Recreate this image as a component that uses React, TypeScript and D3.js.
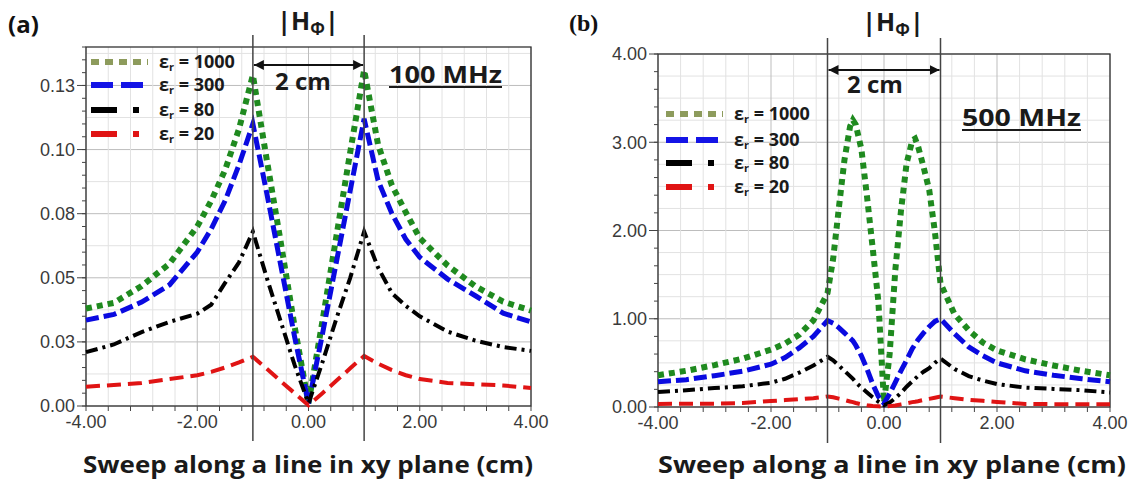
import React from "react";
import * as d3 from "d3";

// ---------- data: panel (a) 100 MHz ----------
const xA = [-4, -3.5, -3, -2.5, -2, -1.75, -1.5, -1.25, -1, -0.75, -0.5, -0.25, 0, 0.25, 0.5, 0.75, 1, 1.25, 1.5, 1.75, 2, 2.5, 3, 3.5, 4];
const a1000 = [0.038, 0.0402, 0.0468, 0.0555, 0.07, 0.08, 0.092, 0.108, 0.129, 0.096, 0.064, 0.031, 0.001, 0.033, 0.066, 0.099, 0.131, 0.102, 0.086, 0.0755, 0.0655, 0.0548, 0.0467, 0.0407, 0.0372];
const a300 = [0.0335, 0.0357, 0.0405, 0.0472, 0.06, 0.069, 0.08, 0.094, 0.11, 0.083, 0.055, 0.027, 0.001, 0.028, 0.056, 0.084, 0.112, 0.088, 0.075, 0.065, 0.058, 0.0495, 0.043, 0.0362, 0.0328];
const a80 = [0.021, 0.024, 0.0288, 0.0328, 0.036, 0.0395, 0.048, 0.056, 0.068, 0.05, 0.033, 0.016, 0.001, 0.017, 0.034, 0.05, 0.068, 0.054, 0.044, 0.039, 0.035, 0.029, 0.0255, 0.023, 0.0215];
const a20 = [0.0075, 0.0082, 0.009, 0.0105, 0.012, 0.0133, 0.015, 0.017, 0.0192, 0.0145, 0.0097, 0.005, 0.0003, 0.005, 0.0098, 0.0147, 0.0195, 0.0165, 0.014, 0.012, 0.0105, 0.009, 0.0085, 0.008, 0.007];
const yTicksA = [0, 0.025, 0.05, 0.075, 0.1, 0.125];
const yTickLabelsA = ["0.00", "0.03", "0.05", "0.08", "0.10", "0.13"];

// ---------- data: panel (b) 500 MHz ----------
const xB = [-4, -3.5, -3, -2.5, -2, -1.75, -1.5, -1.25, -1, -0.9, -0.8, -0.7, -0.6, -0.55, -0.5, -0.4, -0.3, -0.2, -0.1, 0, 0.1, 0.2, 0.3, 0.4, 0.5, 0.55, 0.6, 0.7, 0.8, 0.9, 1, 1.25, 1.5, 1.75, 2, 2.5, 3, 3.5, 4];
const b1000 = [0.36, 0.41, 0.475, 0.548, 0.65, 0.72, 0.82, 0.98, 1.29, 1.68, 2.25, 2.8, 3.18, 3.25, 3.2, 2.92, 2.38, 1.8, 1.2, 0.05, 0.6, 1.55, 2.22, 2.76, 3.02, 3.04, 2.96, 2.72, 2.46, 1.99, 1.4, 1.05, 0.87, 0.73, 0.64, 0.54, 0.47, 0.41, 0.36];
const b300 = [0.285, 0.31, 0.355, 0.405, 0.485, 0.56, 0.67, 0.8, 0.98, 0.95, 0.9, 0.84, 0.78, 0.75, 0.7, 0.58, 0.43, 0.26, 0.12, 0.04, 0.15, 0.28, 0.41, 0.53, 0.66, 0.71, 0.76, 0.84, 0.91, 0.97, 1.0, 0.83, 0.68, 0.58, 0.5, 0.41, 0.36, 0.32, 0.285];
const b80 = [0.17, 0.19, 0.215, 0.235, 0.275, 0.32, 0.39, 0.47, 0.57, 0.53, 0.47, 0.41, 0.35, 0.32, 0.28, 0.22, 0.165, 0.11, 0.06, 0.02, 0.05, 0.1, 0.16, 0.23, 0.29, 0.32, 0.35, 0.4, 0.44, 0.5, 0.55, 0.43, 0.35, 0.3, 0.26, 0.22, 0.205, 0.19, 0.165];
const b20 = [0.035, 0.036, 0.038, 0.045, 0.068, 0.078, 0.088, 0.1, 0.12, 0.11, 0.095, 0.08, 0.062, 0.055, 0.045, 0.03, 0.02, 0.012, 0.008, 0.005, 0.01, 0.018, 0.03, 0.042, 0.055, 0.06, 0.066, 0.08, 0.092, 0.105, 0.118, 0.1, 0.082, 0.07, 0.058, 0.035, 0.032, 0.031, 0.03];
const yTicksB = [0, 1, 2, 3, 4];
const yTickLabelsB = ["0.00", "1.00", "2.00", "3.00", "4.00"];

const xTicks = [-4, -2, 0, 2, 4];
const xTickLabels = ["-4.00", "-2.00", "0.00", "2.00", "4.00"];
const legendLabels = ["1000", "300", "80", "20"];

const SANS = "'Open Sans', 'Liberation Sans', sans-serif";
const ARIAL = "'Liberation Sans', Arial, sans-serif";

const styles = [
  { color: "#1f8a1f", width: 6, dash: "6,5", lColor: "#8d9b5c", lWidth: 6, lDash: "8,6" },
  { color: "#0a0ae0", width: 5, dash: "13,5", lColor: "#1414e6", lWidth: 6, lDash: "22,8,22,5,2,40" },
  { color: "#000000", width: 4, dash: "12,5,3,5", lColor: "#000000", lWidth: 6, lDash: "26,16,6,40" },
  { color: "#e01414", width: 4, dash: "14,7", lColor: "#e01414", lWidth: 6, lDash: "26,16,6,40" },
];

type PanelProps = {
  xs: number[];
  series: number[][];
  yMax: number;
  yTicks: number[];
  yTickLabels: string[];
  yGridStep: number;
  yMinorStep: number;
  box: { l: number; r: number; t: number; b: number };
  legend: { x: number; rows: number[] };
  vTop: number;
  vBottom: number;
  title: { x: number; y: number };
  arrowY: number;
  cm: { x: number; y: number };
  freq: { x: number; y: number; w: number; text: string };
  axisLabel: { x: number; y: number; w: number };
};

function Panel(p: PanelProps) {
  const { box } = p;
  const x = d3.scaleLinear().domain([-4, 4]).range([box.l, box.r]);
  const y = d3.scaleLinear().domain([0, p.yMax]).range([box.b, box.t]);
  const line = d3
    .line<number>()
    .x((_, i) => x(p.xs[i]))
    .y((d) => y(d))
    .curve(d3.curveLinear);

  const vGrid = d3.range(0, 21).map((i) => -4 + i * 0.4);
  const nH = Math.round(p.yMax / p.yGridStep);
  const hGrid = d3.range(0, nH + 1).map((i) => i * p.yGridStep);
  const nM = Math.round(p.yMax / p.yMinorStep);
  const yMinor = d3.range(0, nM + 1).map((i) => i * p.yMinorStep);
  const isMajorY = (v: number) => p.yTicks.some((t) => Math.abs(t - v) < 1e-9);
  const isMajorX = (v: number) => xTicks.some((t) => Math.abs(t - v) < 1e-9);

  return (
    <g>
      {hGrid.map((v, i) => (
        <line key={"h" + i} x1={box.l} x2={box.r} y1={y(v)} y2={y(v)} stroke={isMajorY(v) ? "#bdbdbd" : "#e2e2e2"} strokeWidth={1} />
      ))}
      {vGrid.map((v, i) => (
        <line key={"v" + i} x1={x(v)} x2={x(v)} y1={box.t} y2={box.b} stroke={isMajorX(v) ? "#bdbdbd" : "#e2e2e2"} strokeWidth={1} />
      ))}
      <rect x={box.l} y={box.t} width={box.r - box.l} height={box.b - box.t} fill="none" stroke="#333" strokeWidth={1.3} />
      {yMinor.map((v, i) => (
        <line key={"ym" + i} x1={box.l - 4} x2={box.l} y1={y(v)} y2={y(v)} stroke="#444" strokeWidth={1} />
      ))}
      {p.yTicks.map((v, i) => (
        <g key={"yt" + i}>
          <line x1={box.l - 9} x2={box.l} y1={y(v)} y2={y(v)} stroke="#444" strokeWidth={1} />
          <text x={box.l - 11} y={y(v)} dy="0.35em" textAnchor="end" fontFamily={ARIAL} fontSize={18} fill="#3a3a3a">
            {p.yTickLabels[i]}
          </text>
        </g>
      ))}
      {vGrid.map((v, i) => (
        <line key={"xm" + i} x1={x(v)} x2={x(v)} y1={box.b} y2={box.b + 5} stroke="#444" strokeWidth={1} />
      ))}
      {xTicks.map((v, i) => (
        <text key={"xt" + i} x={x(v)} y={box.b + 22} textAnchor="middle" fontFamily={ARIAL} fontSize={18} fill="#3a3a3a">
          {xTickLabels[i]}
        </text>
      ))}
      {p.series.map((vals, i) => (
        <path key={"s" + i} d={line(vals) || ""} fill="none" stroke={styles[i].color} strokeWidth={styles[i].width} strokeDasharray={styles[i].dash} />
      ))}
      {[-1, 1].map((v) => (
        <line key={"m" + v} x1={x(v)} x2={x(v)} y1={p.vTop} y2={p.vBottom} stroke="#444" strokeWidth={1.5} />
      ))}
      <defs>
        <marker id={"arr" + box.l} viewBox="0 0 10 10" refX={10} refY={5} markerWidth={5} markerHeight={5} orient="auto-start-reverse">
          <path d="M0,0 L10,5 L0,10 z" fill="#111" />
        </marker>
      </defs>
      <line x1={x(-1) + 1} x2={x(1) - 1} y1={p.arrowY} y2={p.arrowY} stroke="#111" strokeWidth={2} markerStart={`url(#arr${box.l})`} markerEnd={`url(#arr${box.l})`} />
      <text x={p.cm.x} y={p.cm.y} textAnchor="middle" fontFamily={SANS} fontWeight="bold" fontSize={24} fill="#1a1a1a">
        2 cm
      </text>
      <text x={p.title.x} y={p.title.y} textAnchor="middle" fontFamily={SANS} fontWeight="bold" fontSize={25} fill="#1a1a1a">
        |H<tspan fontSize={17} dy={5}>Φ</tspan>
        <tspan dy={-5}>|</tspan>
      </text>
      <text x={p.freq.x} y={p.freq.y} fontFamily={SANS} fontWeight="bold" fontSize={24} fill="#1a1a1a" textLength={p.freq.w} lengthAdjust="spacingAndGlyphs">
        {p.freq.text}
      </text>
      <line x1={p.freq.x} x2={p.freq.x + p.freq.w} y1={p.freq.y + 4} y2={p.freq.y + 4} stroke="#1a1a1a" strokeWidth={2} />
      {legendLabels.map((lab, i) => (
        <g key={"lg" + i}>
          <line x1={p.legend.x} x2={p.legend.x + 57} y1={p.legend.rows[i]} y2={p.legend.rows[i]} stroke={styles[i].lColor} strokeWidth={styles[i].lWidth} strokeDasharray={styles[i].lDash} />
          <text x={p.legend.x + 68} y={p.legend.rows[i]} dy="0.35em" fontFamily={SANS} fontWeight="bold" fontSize={18} fill="#1a1a1a">
            ε<tspan fontSize={11} dy={3}>r</tspan>
            <tspan dy={-3}>{" = " + lab}</tspan>
          </text>
        </g>
      ))}
      <text x={p.axisLabel.x} y={p.axisLabel.y} fontFamily={SANS} fontWeight="bold" fontSize={23} fill="#1a1a1a" textLength={p.axisLabel.w} lengthAdjust="spacingAndGlyphs">
        Sweep along a line in xy plane (cm)
      </text>
    </g>
  );
}

export default function App() {
  return (
    <svg width={1134} height={485} style={{ display: "block", position: "absolute", left: 0, top: 0, background: "#fff" }}>
      <rect x={0} y={0} width={1134} height={485} fill="#fff" />
      <text x={8} y={33} fontFamily={SANS} fontWeight="bold" fontSize={24} fill="#111">
        (a)
      </text>
      <text x={569} y={31} fontFamily="'Liberation Serif', 'Times New Roman', serif" fontWeight="bold" fontSize={24} fill="#111">
        (b)
      </text>
      <Panel
        xs={xA}
        series={[a1000, a300, a80, a20]}
        yMax={0.14}
        yTicks={yTicksA}
        yTickLabels={yTickLabelsA}
        yGridStep={0.0125}
        yMinorStep={0.005}
        box={{ l: 86, r: 531, t: 47, b: 406 }}
        legend={{ x: 91, rows: [62, 85, 110, 134] }}
        vTop={35}
        vBottom={441}
        title={{ x: 308, y: 30 }}
        arrowY={65}
        cm={{ x: 303, y: 90 }}
        freq={{ x: 389, y: 83, w: 113, text: "100 MHz" }}
        axisLabel={{ x: 83, y: 473, w: 450 }}
      />
      <Panel
        xs={xB}
        series={[b1000, b300, b80, b20]}
        yMax={4}
        yTicks={yTicksB}
        yTickLabels={yTickLabelsB}
        yGridStep={0.25}
        yMinorStep={0.2}
        box={{ l: 658, r: 1110, t: 54, b: 407 }}
        legend={{ x: 666, rows: [114, 140, 163, 187] }}
        vTop={38}
        vBottom={443}
        title={{ x: 893, y: 31 }}
        arrowY={70}
        cm={{ x: 875, y: 93 }}
        freq={{ x: 962, y: 126, w: 119, text: "500 MHz" }}
        axisLabel={{ x: 658, y: 473, w: 468 }}
      />
    </svg>
  );
}
